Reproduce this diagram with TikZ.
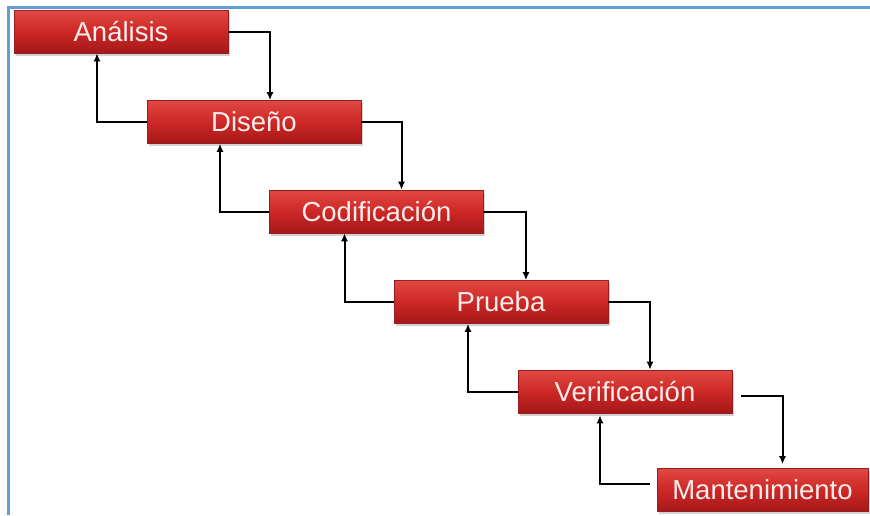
\documentclass[tikz,border=0pt]{standalone}
\usepackage{fontspec}
\setmainfont{Liberation Sans}
\usetikzlibrary{arrows.meta,shadows}

\definecolor{frameblue}{RGB}{98,158,214}
\definecolor{boxtop}{RGB}{226,72,66}
\definecolor{boxmid}{RGB}{204,40,38}
\definecolor{boxbot}{RGB}{165,24,24}
\definecolor{boxedge}{RGB}{150,30,30}
\definecolor{boxtext}{RGB}{255,236,236}

\tikzset{
  phase/.style={
    rectangle, minimum width=214pt, minimum height=43pt, inner sep=0pt,
    top color=boxtop, bottom color=boxbot, middle color=boxmid,
    draw=boxedge, line width=0.6pt,
    drop shadow={shadow xshift=1.5pt, shadow yshift=-2.5pt, opacity=0.35},
    text=boxtext, font=\fontsize{27.5}{31}\selectfont
  },
  flow/.style={line width=2pt, -{Latex[length=8pt,width=7pt]}}
}

\begin{document}
\begin{tikzpicture}[x=1pt,y=-1pt]
  \useasboundingbox (0,0) rectangle (870,515);
  \fill[white] (0,0) rectangle (870,515);

  % frame along the top and left edges
  \draw[frameblue, line width=3pt] (8,515) -- (8,7) -- (870,7);

  % phases of the cascade
  \node[phase] (A) at (121,31.5) {Análisis};
  \node[phase] (D) at (254,122) {Diseño};
  \node[phase] (C) at (376.5,211.5) {Codificación};
  \node[phase] (P) at (501,302) {Prueba};
  \node[phase] (V) at (625,391.5) {Verificación};
  \node[phase, minimum width=211pt] (M) at (762.5,490) {Mantenimiento};

  % forward steps
  \draw[flow] (A.east) -| ([xshift=16pt]D.north);
  \draw[flow] (D.east) -| ([xshift=25pt]C.north);
  \draw[flow] (C.east) -| ([xshift=25pt]P.north);
  \draw[flow] (P.east) -| ([xshift=25pt]V.north);
  \draw[flow] ([xshift=9pt,yshift=-4pt]V.east) -| ([xshift=20pt,yshift=4pt]M.north);

  % feedback steps
  \draw[flow] (D.west) -| ([xshift=-24pt]A.south);
  \draw[flow] (C.west) -| ([xshift=-34pt]D.south);
  \draw[flow] (P.west) -| ([xshift=-32pt]C.south);
  \draw[flow] (V.west) -| ([xshift=-33pt]P.south);
  \draw[flow] ([xshift=-7pt,yshift=6pt]M.west) -| ([xshift=-25pt,yshift=-2pt]V.south);
\end{tikzpicture}
\end{document}
